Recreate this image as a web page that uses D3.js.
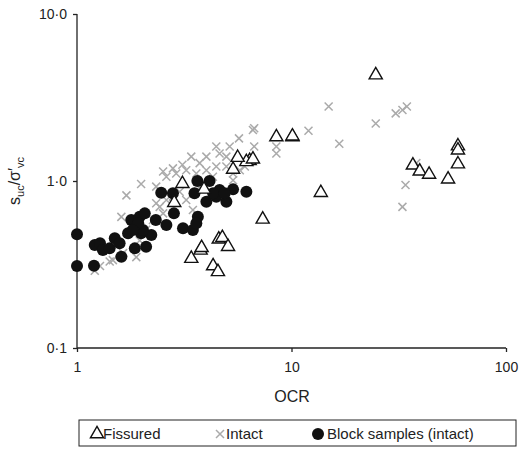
<!DOCTYPE html>
<html>
<head>
<meta charset="utf-8">
<script src="https://cdn.jsdelivr.net/npm/d3@7"></script>
<style>
body { margin: 0; background: #fff; }
text { font-family: Arial, "Liberation Sans", sans-serif; }
</style>
</head>
<body>
<script>
// Fissured (triangles)
var fissuredOCR = [24.7, 8.5, 10.1, 10.1, 13.7, 7.34, 36.8, 39.6, 43.8, 53.7, 59.7, 59.7, 59.7, 6.38, 6.16, 6.61, 5.61, 5.34, 3.10, 2.84, 3.91, 3.41, 3.77, 3.81, 4.31, 4.54, 4.58, 4.76, 5.06];
var fissuredSu  = [4.37, 1.86, 1.86, 1.88, 0.863, 0.598, 1.26, 1.16, 1.11, 1.04, 1.64, 1.55, 1.28, 1.34, 1.32, 1.37, 1.40, 1.19, 0.977, 0.752, 0.904, 0.348, 0.39, 0.404, 0.314, 0.29, 0.454, 0.464, 0.41];
// Intact (crosses)
var intactOCR = [14.9, 12.0, 16.7, 24.7, 30.6, 32.9, 34.5, 34.0, 32.9, 38.2, 8.5, 8.5, 6.61, 6.7, 6.7, 5.69, 4.46, 5.15,
  1.21, 1.28, 1.42, 1.70, 1.61, 1.99, 1.89, 2.34, 2.52, 2.80, 3.10, 3.41, 3.73, 4.01, 4.62, 4.97, 2.61, 2.9, 3.23, 3.6, 4.01, 4.46, 4.97, 5.34, 4.3,
  2.34, 2.43, 2.52, 2.61, 2.8, 3.01, 3.23, 3.47, 2.26, 2.1, 1.96, 1.47, 1.64, 3.73, 5.34, 5.74, 6.06];
var intactSu = [2.79, 2.0, 1.67, 2.21, 2.54, 2.66, 2.79, 0.946, 0.70, 1.28, 1.61, 1.46, 2.02, 2.07, 1.61, 1.80, 1.61, 1.61,
  0.29, 0.31, 0.33, 0.82, 0.61, 0.96, 0.35, 0.925, 1.14, 1.19, 1.25, 1.40, 1.28, 1.40, 1.46, 1.40, 1.06, 1.11, 1.16, 1.11, 1.16, 1.22, 1.22, 1.11, 1.06,
  0.735, 0.70, 0.64, 0.77, 0.806, 0.863, 0.77, 0.67, 0.584, 0.51, 0.44, 0.336, 0.37, 0.925, 1.01, 1.16, 1.22];
// Block samples (intact) (filled circles)
var blockOCR = [1.0, 1.0, 1.20, 1.21, 1.28, 1.32, 1.42, 1.50, 1.61, 1.58, 1.73, 1.79, 1.86, 1.89, 1.96, 1.99, 2.07, 2.10, 2.22, 2.03, 1.93, 1.82, 2.33, 2.47, 2.61, 2.80, 2.83, 3.12, 3.47, 3.66, 3.60, 3.53, 3.64, 4.15, 4.01, 4.46, 4.62, 4.97, 5.34, 6.16, 4.31, 4.88];
var blockSu  = [0.48, 0.31, 0.311, 0.414, 0.424, 0.386, 0.395, 0.454, 0.352, 0.424, 0.486, 0.584, 0.395, 0.533, 0.611, 0.486, 0.640, 0.404, 0.475, 0.509, 0.558, 0.509, 0.584, 0.85, 0.545, 0.844, 0.64, 0.521, 0.509, 0.611, 0.558, 0.844, 1.0, 1.0, 0.752, 0.806, 0.883, 0.752, 0.891, 0.863, 0.844, 0.844];

var xTicks = [1, 10, 100];
var yTicks = [0.1, 1, 10];
var yTickLabels = ["0·1", "1·0", "10·0"];

var svg = d3.select("body").append("svg").attr("width", 520).attr("height", 451);

var x = d3.scaleLog().domain([1, 100]).range([77, 506]);
var y = d3.scaleLog().domain([0.1, 10]).range([348, 14]);

// axes
svg.append("g")
  .attr("transform", "translate(0,348)")
  .call(d3.axisBottom(x).tickValues(xTicks).tickFormat(d3.format("d")).tickSize(4).tickPadding(10))
  .call(g => g.select(".domain").attr("d", "M77,0H506"));
svg.append("g")
  .attr("transform", "translate(77,0)")
  .call(d3.axisLeft(y).tickValues(yTicks).tickFormat(function (d, i) { return yTickLabels[i]; }).tickSize(4).tickPadding(6))
  .call(g => g.select(".domain").attr("d", "M0,14V348"));
svg.selectAll(".tick text").attr("font-size", 14).attr("fill", "#222");
svg.selectAll(".domain, .tick line").attr("stroke", "#222").attr("stroke-width", 1.3);

// axis titles
svg.append("text").attr("x", 292).attr("y", 402).attr("text-anchor", "middle")
  .attr("font-size", 16).attr("fill", "#222").text("OCR");
var yl = svg.append("text").attr("transform", "translate(20,181) rotate(-90)")
  .attr("text-anchor", "middle").attr("font-size", 16).attr("fill", "#222");
yl.append("tspan").text("s");
yl.append("tspan").attr("font-size", 11).attr("dy", 4).text("uc");
yl.append("tspan").attr("dy", -4).text("/σ′");
yl.append("tspan").attr("font-size", 11).attr("dy", 4).text("vc");

// marks
var crossPath = "M-4,-4L4,4M-4,4L4,-4";
var triPath = d3.symbol().type(d3.symbolTriangle).size(75)();

svg.append("g").selectAll("path").data(intactOCR).enter().append("path")
  .attr("d", crossPath)
  .attr("transform", function (d, i) { return "translate(" + x(d) + "," + y(intactSu[i]) + ")"; })
  .attr("stroke", "#aaa").attr("stroke-width", 1.5).attr("fill", "none");

svg.append("g").selectAll("circle").data(blockOCR).enter().append("circle")
  .attr("cx", function (d) { return x(d); })
  .attr("cy", function (d, i) { return y(blockSu[i]); })
  .attr("r", 6).attr("fill", "#111");

svg.append("g").selectAll("path").data(fissuredOCR).enter().append("path")
  .attr("d", triPath)
  .attr("transform", function (d, i) { return "translate(" + x(d) + "," + (y(fissuredSu[i]) + 1) + ")"; })
  .attr("stroke", "#111").attr("stroke-width", 1.4).attr("fill", "#fff");

// legend
var lg = svg.append("g");
lg.append("rect").attr("x", 79).attr("y", 420).attr("width", 437).attr("height", 26)
  .attr("fill", "#fff").attr("stroke", "#222").attr("stroke-width", 1);
lg.append("path").attr("d", triPath).attr("transform", "translate(97,434)")
  .attr("stroke", "#111").attr("stroke-width", 1.4).attr("fill", "#fff");
lg.append("text").attr("x", 103).attr("y", 439).attr("font-size", 15).attr("fill", "#222").text("Fissured");
lg.append("path").attr("d", crossPath).attr("transform", "translate(220,434)")
  .attr("stroke", "#aaa").attr("stroke-width", 1.5);
lg.append("text").attr("x", 226).attr("y", 439).attr("font-size", 15).attr("fill", "#222").text("Intact");
lg.append("circle").attr("cx", 318).attr("cy", 434).attr("r", 6).attr("fill", "#111");
lg.append("text").attr("x", 327).attr("y", 439).attr("font-size", 15).attr("fill", "#222").text("Block samples (intact)");
</script>
</body>
</html>
